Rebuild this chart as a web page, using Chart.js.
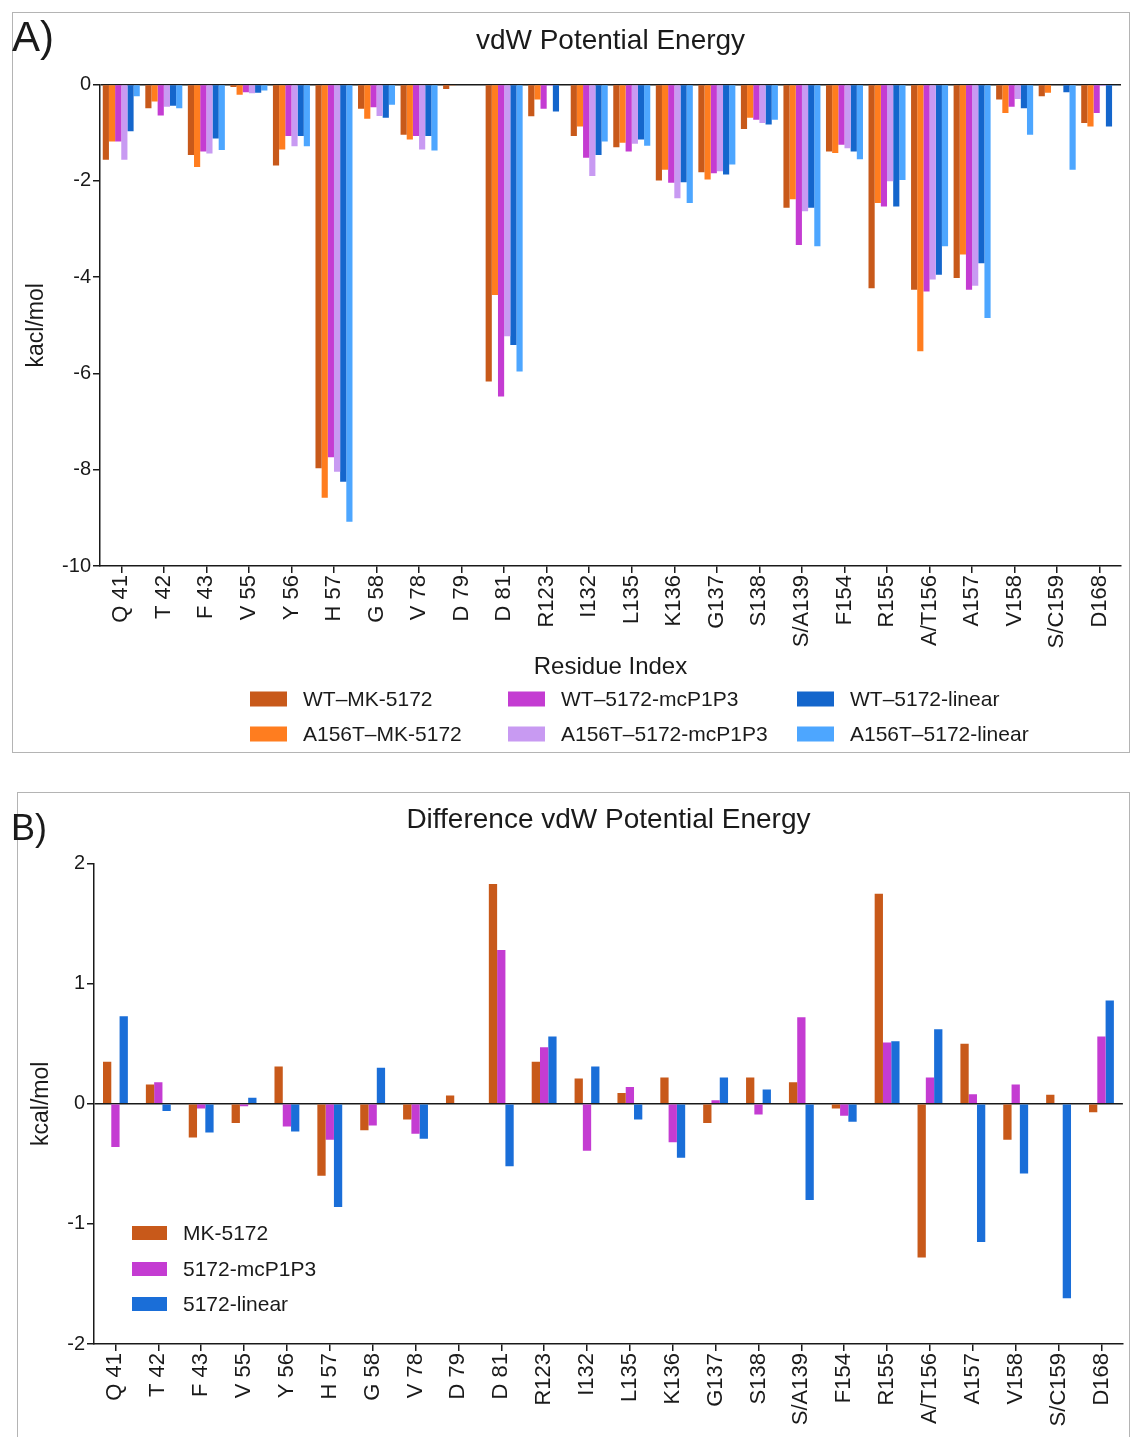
<!DOCTYPE html>
<html>
<head>
<meta charset="utf-8">
<script src="https://cdn.jsdelivr.net/npm/chart.js@4.4.0/dist/chart.umd.min.js"></script>
<style>
  html, body { margin: 0; padding: 0; background: #fff; }
  body { width: 1132px; height: 1437px; position: relative; overflow: hidden; font-family: "Liberation Sans", Arial, sans-serif; }
  .frame { position: absolute; border: 1px solid #b4b4b4; box-sizing: border-box; }
  .tag { position: absolute; color: #1a1a1a; line-height: 1; }
  canvas { position: absolute; }
</style>
</head>
<body>
<div class="frame" style="left:12px;top:12px;width:1118px;height:741px"></div>
<div class="frame" style="left:17px;top:792px;width:1113px;height:680px"></div>
<canvas id="chartA" width="1118" height="741" style="left:12px;top:12px"></canvas>
<canvas id="chartB" width="1113" height="645" style="left:17px;top:792px"></canvas>
<div class="tag" style="left:12px;top:16px;font-size:42px">A)</div>
<div class="tag" style="left:11px;top:810px;font-size:36px">B)</div>
<script>
// residues on the x axis (both panels)
const residues = ['Q 41', 'T 42', 'F 43', 'V 55', 'Y 56', 'H 57', 'G 58', 'V 78', 'D 79', 'D 81', 'R123', 'I132',
  'L135', 'K136', 'G137', 'S138', 'S/A139', 'F154', 'R155', 'A/T156', 'A157', 'V158', 'S/C159', 'D168']

// panel A - vdW energy, kcal/mol
const wtMK       = [-1.56, -0.49, -1.46, -0.05, -1.68, -7.97, -0.50, -1.04, -0.09, -6.17, -0.66, -1.07, -1.30, -1.99, -1.82, -0.92, -2.56, -1.39, -4.23, -4.26, -4.02, -0.31, -0.24, -0.80]
const a156tMK    = [-1.18, -0.35, -1.71, -0.21, -1.35, -8.58, -0.71, -1.14, -0.02, -4.37, -0.31, -0.87, -1.21, -1.77, -1.97, -0.69, -2.38, -1.42, -2.46, -5.54, -3.53, -0.59, -0.17, -0.87]
const wtMc       = [-1.18, -0.64, -1.39, -0.16, -1.07, -7.74, -0.47, -1.07, 0, -6.48, -0.50, -1.52, -1.39, -2.04, -1.84, -0.73, -3.33, -1.25, -2.53, -4.30, -4.26, -0.46, 0, -0.59]
const a156tMc    = [-1.56, -0.46, -1.43, -0.18, -1.28, -8.04, -0.65, -1.35, 0, -5.23, -0.03, -1.90, -1.23, -2.36, -1.80, -0.80, -2.63, -1.32, -2.01, -4.05, -4.18, -0.30, 0, -0.03]
const wtLin      = [-0.97, -0.44, -1.12, -0.17, -1.07, -8.25, -0.69, -1.07, 0, -5.41, -0.56, -1.46, -1.14, -2.03, -1.87, -0.83, -2.56, -1.39, -2.53, -3.95, -3.71, -0.49, -0.16, -0.87]
const a156tLin   = [-0.24, -0.49, -1.36, -0.12, -1.28, -9.08, -0.42, -1.37, 0, -5.96, 0, -1.18, -1.27, -2.46, -1.66, -0.73, -3.36, -1.55, -1.98, -3.36, -4.85, -1.04, -1.77, -0.01]
const ticksA = [0, -2, -4, -6, -8, -10]

// panel B - difference (A156T - WT)
const diffMK  = [0.35, 0.16, -0.28, -0.16, 0.31, -0.60, -0.22, -0.13, 0.07, 1.83, 0.35, 0.21, 0.09, 0.22, -0.16, 0.22, 0.18, -0.04, 1.75, -1.28, 0.50, -0.30, 0.075, -0.07]
const diffMc  = [-0.36, 0.18, -0.04, -0.02, -0.19, -0.30, -0.18, -0.25, 0, 1.28, 0.47, -0.39, 0.14, -0.32, 0.03, -0.09, 0.72, -0.10, 0.51, 0.22, 0.08, 0.16, 0, 0.56]
const diffLin = [0.73, -0.06, -0.24, 0.05, -0.23, -0.86, 0.30, -0.29, 0, -0.52, 0.56, 0.31, -0.13, -0.45, 0.22, 0.12, -0.80, -0.15, 0.52, 0.62, -1.15, -0.58, -1.62, 0.86]
const ticksB = [2, 1, 0, -1, -2]

const INK = '#1a1a1a'
const FONT = '"Liberation Sans", Arial, sans-serif'
Chart.defaults.font.family = FONT
Chart.defaults.color = INK

// legend laid out in a fixed grid, like the figure
const gridLegend = {
  id: 'gridLegend',
  afterDraw(chart, args, opts) {
    const ctx = chart.ctx
    ctx.save()
    ctx.font = opts.size + 'px ' + FONT
    ctx.textBaseline = 'middle'
    chart.data.datasets.forEach((ds, i) => {
      const col = Math.floor(i / opts.perCol), row = i % opts.perCol
      const x = opts.colX[col], y = opts.rowY[row]
      ctx.fillStyle = ds.backgroundColor
      ctx.fillRect(x, y - opts.boxH / 2, opts.boxW, opts.boxH)
      ctx.fillStyle = INK
      ctx.fillText(ds.label, x + opts.boxW + opts.gap, y + 1)
    })
    ctx.restore()
  }
}

function yScale(min, max, ticks, title, width) {
  return {
    min: min, max: max,
    afterBuildTicks: s => { s.ticks = ticks.map(v => ({ value: v })) },
    afterFit: s => { s.width = width },
    border: { color: INK, width: 1.5 },
    grid: {
      color: c => (c.tick && c.tick.value === 0 ? INK : 'transparent'),
      lineWidth: 1.5, tickColor: INK, tickLength: 7
    },
    ticks: { font: { size: 20 }, padding: 2, color: INK },
    title: { display: true, text: title, font: { size: 23 }, padding: { top: 11 }, color: INK }
  }
}

function xScale(height, title) {
  return {
    afterFit: s => { s.height = height },
    border: { color: INK, width: 1.5 },
    grid: { drawOnChartArea: false, offset: false, color: INK, tickColor: INK, tickLength: 7, lineWidth: 1.5 },
    ticks: { autoSkip: false, maxRotation: 90, minRotation: 90, font: { size: 22 }, padding: 2, color: INK },
    title: title ? { display: true, text: title, font: { size: 24 }, padding: { top: 4, bottom: 4 }, color: INK } : { display: false }
  }
}

new Chart(document.getElementById('chartA'), {
  type: 'bar',
  data: {
    labels: residues,
    datasets: [
      { label: 'WT\u2013MK-5172', data: wtMK, backgroundColor: '#C8591A' },
      { label: 'A156T\u2013MK-5172', data: a156tMK, backgroundColor: '#FF7D1F' },
      { label: 'WT\u20135172-mcP1P3', data: wtMc, backgroundColor: '#C43CD2' },
      { label: 'A156T\u20135172-mcP1P3', data: a156tMc, backgroundColor: '#C89AF2' },
      { label: 'WT\u20135172-linear', data: wtLin, backgroundColor: '#1466CC' },
      { label: 'A156T\u20135172-linear', data: a156tLin, backgroundColor: '#4DA6FF' }
    ]
  },
  options: {
    responsive: false,
    animation: false,
    categoryPercentage: 0.87,
    barPercentage: 1,
    layout: { padding: { left: 0, right: 9, top: 0, bottom: 67 } },
    scales: {
      x: xScale(120, 'Residue Index'),
      y: yScale(-10, 0, ticksA, 'kacl/mol', 88)
    },
    plugins: {
      legend: { display: false },
      tooltip: { enabled: false },
      title: {
        display: true, fullSize: false, text: 'vdW Potential Energy', color: INK,
        font: { size: 28, weight: 'normal' }, padding: { top: 12, bottom: 27 }
      },
      gridLegend: { perCol: 2, colX: [238, 496, 785], rowY: [687, 722], boxW: 37, boxH: 15, gap: 16, size: 21 }
    }
  },
  plugins: [gridLegend]
})

new Chart(document.getElementById('chartB'), {
  type: 'bar',
  data: {
    labels: residues,
    datasets: [
      { label: 'MK-5172', data: diffMK, backgroundColor: '#C8591A' },
      { label: '5172-mcP1P3', data: diffMc, backgroundColor: '#C43CD2' },
      { label: '5172-linear', data: diffLin, backgroundColor: '#1A6ED8' }
    ]
  },
  options: {
    responsive: false,
    animation: false,
    categoryPercentage: 0.58,
    barPercentage: 1,
    layout: { padding: { left: 0, right: 1, top: 0, bottom: 0 } },
    scales: {
      x: xScale(93, null),
      y: yScale(-2, 2, ticksB, 'kcal/mol', 77)
    },
    plugins: {
      legend: { display: false },
      tooltip: { enabled: false },
      title: {
        display: true, fullSize: false, text: 'Difference vdW Potential Energy', color: INK,
        font: { size: 28, weight: 'normal' }, padding: { top: 11, bottom: 27 }
      },
      gridLegend: { perCol: 3, colX: [115], rowY: [441, 477, 512], boxW: 35, boxH: 14, gap: 16, size: 21 }
    }
  },
  plugins: [gridLegend]
})
</script>
</body>
</html>
